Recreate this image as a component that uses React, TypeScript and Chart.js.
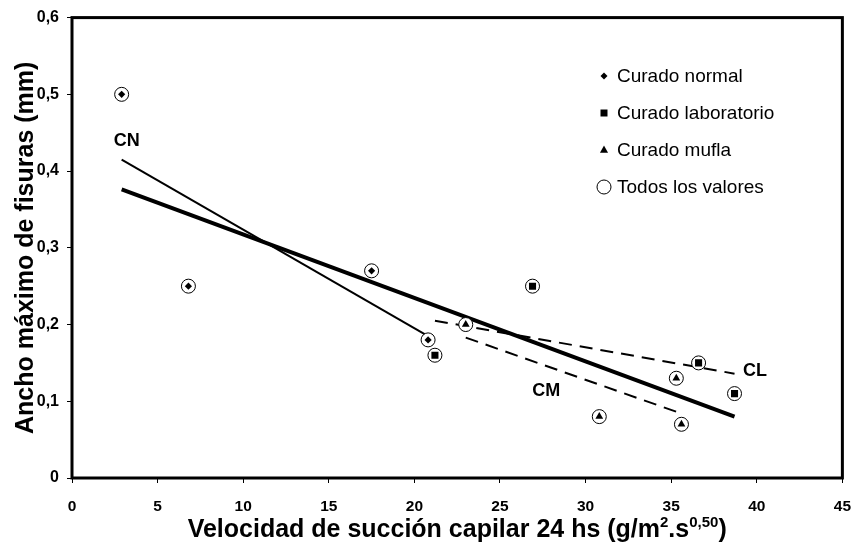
import React, { useEffect, useRef } from "react";
import { Chart, registerables } from "chart.js";
Chart.register(...registerables);

// ---- data ----
const normalX = [2.9, 6.8, 17.5, 20.8];
const normalY = [0.5, 0.25, 0.27, 0.18];
const labX = [21.2, 26.9, 36.6, 38.7];
const labY = [0.16, 0.25, 0.15, 0.11];
const muflaX = [23.0, 30.8, 35.3, 35.6];
const muflaY = [0.2, 0.08, 0.13, 0.07];

const cnFitX = [2.9, 20.8];
const cnFitY = [0.415, 0.185];
const allFitX = [2.9, 38.7];
const allFitY = [0.376, 0.08];
const clFitX = [21.2, 38.7];
const clFitY = [0.205, 0.136];
const cmFitX = [23.0, 35.6];
const cmFitY = [0.183, 0.084];

const legendLabels = ["Curado normal", "Curado laboratorio", "Curado mufla", "Todos los valores"];
const fitLabels = ["CN", "CM", "CL"];
const fitLabelX = [3.2, 27.7, 39.9];
const fitLabelY = [0.439, 0.113, 0.14];

const xTitleParts = [
  { t: "Velocidad de succión capilar 24 hs (g/m", sup: false },
  { t: "2", sup: true },
  { t: ".s", sup: false },
  { t: "0,50", sup: true },
  { t: ")", sup: false },
];
const yTitle = "Ancho máximo de fisuras (mm)";

const FONT = "Arial, 'Liberation Sans', sans-serif";

const zip = (xs: number[], ys: number[]) => xs.map((x, i) => ({ x, y: ys[i] }));

function drawMarker(ctx: CanvasRenderingContext2D, kind: string, x: number, y: number) {
  ctx.save();
  ctx.fillStyle = "#000";
  ctx.strokeStyle = "#000";
  ctx.lineWidth = 1;
  ctx.beginPath();
  if (kind === "diamond") {
    const r = 3.5;
    ctx.moveTo(x, y - r);
    ctx.lineTo(x + r, y);
    ctx.lineTo(x, y + r);
    ctx.lineTo(x - r, y);
    ctx.closePath();
    ctx.fill();
  } else if (kind === "square") {
    const s = 3.5;
    ctx.rect(x - s, y - s, 2 * s, 2 * s);
    ctx.fill();
  } else if (kind === "triangle") {
    const r = 4.5;
    ctx.moveTo(x, y - r);
    ctx.lineTo(x + r * 0.9, y + r * 0.6);
    ctx.lineTo(x - r * 0.9, y + r * 0.6);
    ctx.closePath();
    ctx.fill();
  } else {
    ctx.fillStyle = "#fff";
    ctx.arc(x, y, 7, 0, Math.PI * 2);
    ctx.fill();
    ctx.stroke();
  }
  ctx.restore();
}

const decorPlugin = {
  id: "decor",
  afterDraw(chart: any) {
    const { ctx, chartArea } = chart;
    const xs = chart.scales.x;
    const ys = chart.scales.y;
    ctx.save();
    // frame
    ctx.strokeStyle = "#000";
    ctx.lineWidth = 3;
    ctx.strokeRect(chartArea.left, chartArea.top, chartArea.right - chartArea.left, chartArea.bottom - chartArea.top);

    // fit labels
    ctx.fillStyle = "#000";
    ctx.font = `bold 18px ${FONT}`;
    ctx.textAlign = "center";
    ctx.textBaseline = "middle";
    fitLabels.forEach((t, i) => {
      ctx.fillText(t, xs.getPixelForValue(fitLabelX[i]), ys.getPixelForValue(fitLabelY[i]));
    });

    // legend
    const kinds = ["diamond", "square", "triangle", "circle"];
    const rowY = [76, 113, 150, 187];
    ctx.font = `19px ${FONT}`;
    ctx.textAlign = "left";
    legendLabels.forEach((t, i) => {
      drawMarker(ctx, kinds[i], 604, rowY[i]);
      ctx.fillStyle = "#000";
      ctx.fillText(t, 617, rowY[i] + 1);
    });

    // x title with superscripts
    const main = 25;
    const sup = 15;
    let total = 0;
    xTitleParts.forEach((p) => {
      ctx.font = `bold ${p.sup ? sup : main}px ${FONT}`;
      total += ctx.measureText(p.t).width;
    });
    let cx = (chartArea.left + chartArea.right) / 2 - total / 2;
    const base = 537;
    ctx.textAlign = "left";
    ctx.textBaseline = "alphabetic";
    xTitleParts.forEach((p) => {
      ctx.font = `bold ${p.sup ? sup : main}px ${FONT}`;
      ctx.fillText(p.t, cx, p.sup ? base - 10 : base);
      cx += ctx.measureText(p.t).width;
    });

    // y title
    ctx.save();
    ctx.translate(33, (chartArea.top + chartArea.bottom) / 2);
    ctx.rotate(-Math.PI / 2);
    ctx.font = `bold 25px ${FONT}`;
    ctx.textAlign = "center";
    ctx.textBaseline = "alphabetic";
    ctx.fillText(yTitle, 0, 0);
    ctx.restore();

    ctx.restore();
  },
};

export default function App() {
  const ref = useRef<HTMLCanvasElement | null>(null);
  useEffect(() => {
    if (!ref.current) return;
    const markerBase = {
      type: "scatter" as const,
      showLine: false,
      pointBackgroundColor: "#000",
      pointBorderColor: "#000",
      pointBorderWidth: 0,
      order: 1,
    };
    const fitBase = {
      type: "line" as const,
      showLine: true,
      pointRadius: 0,
      borderColor: "#000",
      fill: false,
      tension: 0,
      order: 3,
    };
    const chart = new Chart(ref.current, {
      type: "scatter",
      data: {
        datasets: [
          { ...markerBase, label: legendLabels[0], data: zip(normalX, normalY), pointStyle: "rectRot", pointRadius: 3.6 },
          { ...markerBase, label: legendLabels[1], data: zip(labX, labY), pointStyle: "rect", pointRadius: 5 },
          { ...markerBase, label: legendLabels[2], data: zip(muflaX, muflaY), pointStyle: "triangle", pointRadius: 4.5 },
          {
            type: "scatter",
            label: legendLabels[3],
            data: [...zip(normalX, normalY), ...zip(labX, labY), ...zip(muflaX, muflaY)],
            pointStyle: "circle",
            pointRadius: 7,
            pointBackgroundColor: "#fff",
            pointBorderColor: "#000",
            pointBorderWidth: 1,
            showLine: false,
            order: 2,
          },
          { ...fitBase, label: "CN", data: zip(cnFitX, cnFitY), borderWidth: 2 },
          { ...fitBase, label: "Todos", data: zip(allFitX, allFitY), borderWidth: 4 },
          { ...fitBase, label: "CL", data: zip(clFitX, clFitY), borderWidth: 2, borderDash: [13, 8] },
          { ...fitBase, label: "CM", data: zip(cmFitX, cmFitY), borderWidth: 2, borderDash: [13, 8] },
        ] as any,
      },
      options: {
        animation: false,
        responsive: false,
        maintainAspectRatio: false,
        layout: { padding: { top: 16, right: 13, left: 0, bottom: 0 } },
        plugins: { legend: { display: false }, tooltip: { enabled: false } },
        scales: {
          x: {
            type: "linear",
            min: 0,
            max: 45,
            border: { display: false },
            grid: { drawOnChartArea: false, drawTicks: true, tickLength: 5, color: "#000", lineWidth: 1 },
            ticks: {
              stepSize: 5,
              color: "#000",
              font: { family: FONT, size: 15.5, weight: "bold" },
              padding: 14,
              maxRotation: 0,
            },
            afterFit: (s: any) => {
              s.height = 68;
            },
          },
          y: {
            type: "linear",
            min: 0,
            max: 0.6,
            border: { display: false },
            grid: { drawOnChartArea: false, drawTicks: true, tickLength: 5, color: "#000", lineWidth: 1 },
            ticks: {
              stepSize: 0.1,
              color: "#000",
              font: { family: FONT, size: 16, weight: "bold" },
              padding: 8,
              callback: (v: any) => (Number(v) === 0 ? "0" : Number(v).toFixed(1).replace(".", ",")),
            },
            afterFit: (s: any) => {
              s.width = 72;
            },
          },
        },
      } as any,
      plugins: [decorPlugin],
    });
    return () => chart.destroy();
  }, []);
  return (
    <div style={{ position: "fixed", left: 0, top: 0, width: 865, height: 546, background: "#fff" }}>
      <canvas ref={ref} width={865} height={546} style={{ width: 865, height: 546, display: "block" }} />
    </div>
  );
}
